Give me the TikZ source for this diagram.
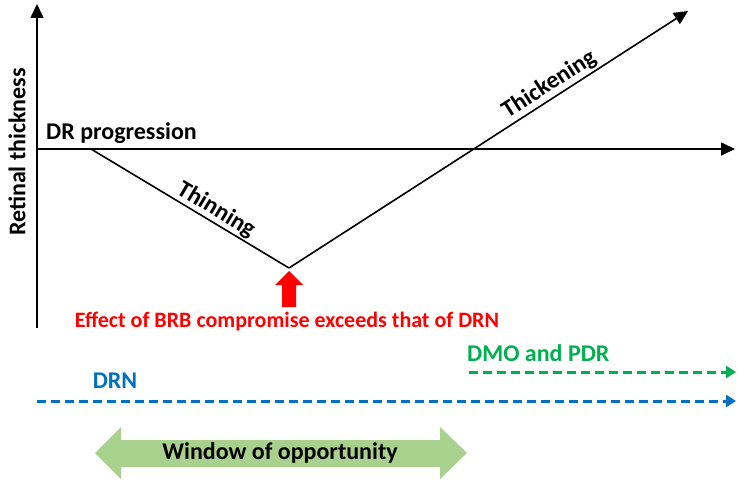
\documentclass[tikz,border=0pt]{standalone}
\usepackage{fontspec}
\setmainfont{Carlito}
\usetikzlibrary{arrows.meta}
\definecolor{ofblue}{RGB}{0,112,192}
\definecolor{ofgreen}{RGB}{0,176,80}
\definecolor{ofred}{RGB}{255,0,0}
\definecolor{winfill}{RGB}{169,209,142}
\tikzset{
  lbl/.style={font=\fontsize{24}{28}\selectfont\bfseries, inner sep=1pt},
  redlbl/.style={font=\fontsize{22}{26}\selectfont\bfseries, inner sep=1pt, text=ofred},
  axis/.style={line width=1.6pt, -{Triangle[length=14pt,width=13pt]}},
  curve/.style={line width=1.6pt},
  dashline/.style={line width=3pt, dash pattern=on 9pt off 5pt, -{Triangle[length=10pt,width=12pt]}}
}
\begin{document}
\begin{tikzpicture}[x=1pt,y=-1pt]
\useasboundingbox (0,0) rectangle (744,489);
% axes
\coordinate (o) at (37,149);
\coordinate (ybot) at (37,328);
\coordinate (ytop) at (37,4);
\coordinate (xend) at (735,149);
\coordinate (start) at (91,149);
\coordinate (bottom) at (289,268);
\coordinate (tip) at (688,11);
\draw[axis] (ybot) -- (ytop);
\draw[axis] (o) -- (xend);
\draw[curve] (start) -- node[lbl, sloped, above, pos=0.6, yshift=0pt] (thin) {Thinning} (bottom);
\draw[axis] (bottom) -- node[lbl, sloped, above, pos=0.67, yshift=1pt] (thick) {Thickening} (tip);
\node[lbl, rotate=90] (ylab) at (17,152) {Retinal thickness};
\node[lbl, anchor=west] (drp) at (45,133) {DR progression};
% red block arrow
\fill[ofred] (289,271) -- (303,285) -- (296,285) -- (296,307) -- (282,307) -- (282,285) -- (275,285) -- cycle;
\node[redlbl] (effect) at (287,321) {Effect of BRB compromise exceeds that of DRN};
% dashed arrows
\node[lbl, text=ofgreen, anchor=west] (dmo) at (466,353) {DMO and PDR};
\coordinate (gs) at (469,372);
\coordinate (ge) at (736,372);
\draw[dashline, ofgreen] (gs) -- (ge);
\node[lbl, text=ofblue] (drn) at (115,381) {DRN};
\coordinate (bs) at (37,401);
\coordinate (be) at (736,401);
\draw[dashline, ofblue] (bs) -- (be);
% window of opportunity
\fill[winfill] (95,453) -- (121,427) -- (121,440) -- (440,440) -- (440,427) -- (467,453) -- (440,479) -- (440,467) -- (121,467) -- (121,479) -- cycle;
\node[lbl] (win) at (280,453) {Window of opportunity};
\end{tikzpicture}
\end{document}
